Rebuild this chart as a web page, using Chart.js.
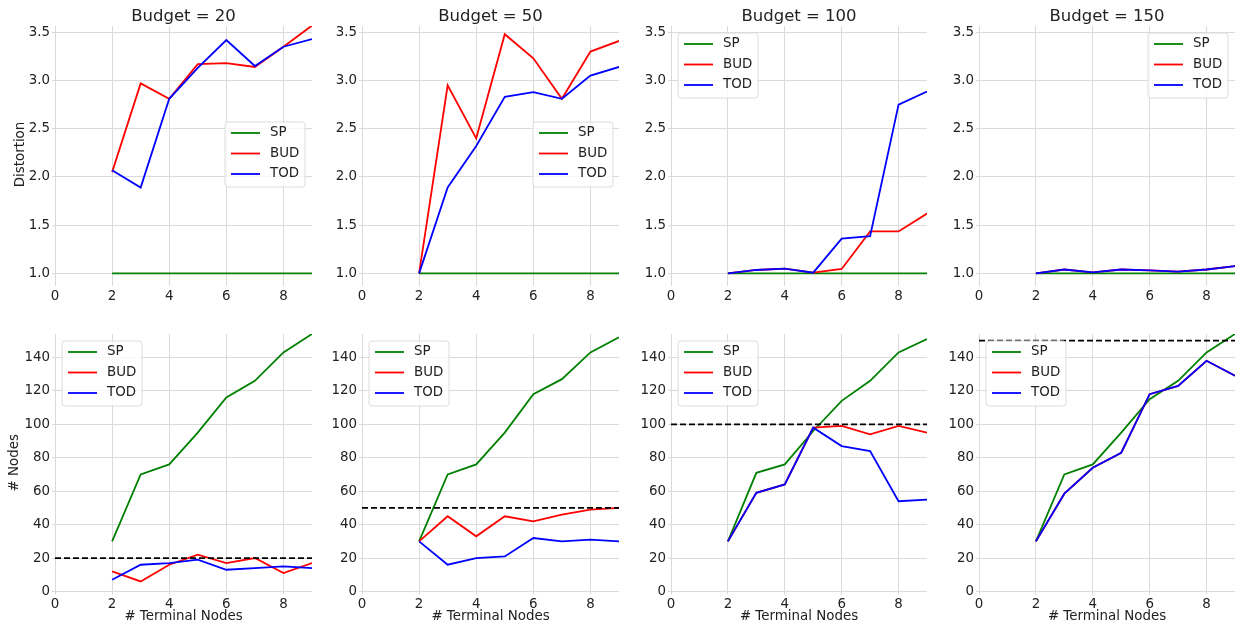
<!DOCTYPE html>
<html>
<head>
<meta charset="utf-8">
<script src="https://cdn.jsdelivr.net/npm/chart.js@4.4.1/dist/chart.umd.min.js"></script>
<style>
  html, body { margin: 0; padding: 0; background: #fff; overflow: hidden; }
  #wrap { position: relative; width: 1239px; height: 628px; }
  #wrap canvas { position: absolute; }
</style>
</head>
<body>
<div id="wrap"></div>
<script>
const terminals = [2, 3, 4, 5, 6, 7, 8, 9];
const budgets = [20, 50, 100, 150];
const seriesNames = ['SP', 'BUD', 'TOD'];
const seriesColors = ['green', 'red', 'blue'];

// distortion per budget
const distSP20  = [1, 1, 1, 1, 1, 1, 1, 1];
const distBUD20 = [2.05, 2.97, 2.81, 3.17, 3.18, 3.14, 3.35, 3.57];
const distTOD20 = [2.07, 1.89, 2.81, 3.13, 3.42, 3.15, 3.35, 3.43];
const distSP50  = [1, 1, 1, 1, 1, 1, 1, 1];
const distBUD50 = [1.0, 2.95, 2.40, 3.48, 3.23, 2.81, 3.30, 3.41];
const distTOD50 = [1.0, 1.89, 2.32, 2.83, 2.88, 2.81, 3.05, 3.14];
const distSP100  = [1, 1, 1, 1, 1, 1, 1, 1];
const distBUD100 = [1.0, 1.035, 1.05, 1.007, 1.045, 1.435, 1.435, 1.62];
const distTOD100 = [1.0, 1.035, 1.05, 1.007, 1.36, 1.385, 2.75, 2.885];
const distSP150  = [1, 1, 1, 1, 1, 1, 1, 1];
const distBUD150 = [1.0, 1.04, 1.01, 1.04, 1.03, 1.017, 1.04, 1.076];
const distTOD150 = [1.0, 1.04, 1.01, 1.04, 1.03, 1.017, 1.04, 1.076];

// number of nodes per budget
const nodesSP20  = [30, 70, 76, 95, 116, 126, 143, 154];
const nodesBUD20 = [12, 6, 16, 22, 17, 20, 11, 17];
const nodesTOD20 = [7, 16, 17, 19, 13, 14, 15, 14];
const nodesSP50  = [30, 70, 76, 95, 118, 127, 143, 152];
const nodesBUD50 = [30, 45, 33, 45, 42, 46, 49, 50];
const nodesTOD50 = [30, 16, 20, 21, 32, 30, 31, 30];
const nodesSP100  = [30, 71, 76, 96, 114, 126, 143, 151];
const nodesBUD100 = [30, 59, 64, 98, 99, 94, 99, 95];
const nodesTOD100 = [30, 59, 64, 98, 87, 84, 54, 55];
const nodesSP150  = [30, 70, 76, 95, 115, 126, 143, 154];
const nodesBUD150 = [30, 58.5, 74, 83, 118, 123, 138, 129];
const nodesTOD150 = [30, 58.5, 74, 83, 118, 123, 138, 129];

const xTicks = [0, 2, 4, 6, 8];
const distTicks = [1.0, 1.5, 2.0, 2.5, 3.0, 3.5];
const nodeTicks = [0, 20, 40, 60, 80, 100, 120, 140];

const distortion = [
  [distSP20, distBUD20, distTOD20],
  [distSP50, distBUD50, distTOD50],
  [distSP100, distBUD100, distTOD100],
  [distSP150, distBUD150, distTOD150]
];
const nodes = [
  [nodesSP20, nodesBUD20, nodesTOD20],
  [nodesSP50, nodesBUD50, nodesTOD50],
  [nodesSP100, nodesBUD100, nodesTOD100],
  [nodesSP150, nodesBUD150, nodesTOD150]
];

Chart.defaults.font.family = '"DejaVu Sans", sans-serif';
Chart.defaults.font.size = 13.4;
Chart.defaults.color = '#222';

const textColor = '#222';
const gridColor = '#dadada';

// title centred over the plot area
const panelTitle = {
  id: 'panelTitle',
  afterDraw(chart, args, opts) {
    if (!opts.text) return;
    const { ctx, chartArea } = chart;
    ctx.save();
    ctx.font = '16.5px "DejaVu Sans"';
    ctx.fillStyle = textColor;
    ctx.textAlign = 'center';
    ctx.textBaseline = 'middle';
    ctx.fillText(opts.text, (chartArea.left + chartArea.right) / 2, 16.5);
    ctx.restore();
  }
};

// matplotlib style legend box inside the axes
const boxLegend = {
  id: 'boxLegend',
  afterDraw(chart, args, opts) {
    const { ctx, chartArea } = chart;
    const w = 80, h = 65;
    const x = opts.side === 'right' ? chartArea.right - opts.dx - w : chartArea.left + opts.dx;
    const y = chartArea.top + opts.dy;
    ctx.save();
    ctx.beginPath();
    ctx.roundRect(x, y, w, h, 3);
    ctx.fillStyle = 'rgba(255,255,255,0.8)';
    ctx.fill();
    ctx.strokeStyle = '#dcdcdc';
    ctx.lineWidth = 1;
    ctx.stroke();
    ctx.font = '13.4px "DejaVu Sans"';
    ctx.textBaseline = 'middle';
    seriesNames.forEach((name, i) => {
      const ly = y + 11 + i * 20.5;
      ctx.strokeStyle = seriesColors[i];
      ctx.lineWidth = 1.8;
      ctx.beginPath();
      ctx.moveTo(x + 6, ly);
      ctx.lineTo(x + 35, ly);
      ctx.stroke();
      ctx.fillStyle = textColor;
      ctx.fillText(name, x + 45, ly);
    });
    ctx.restore();
  }
};

const plotLefts = [55, 362, 671, 979];
const plotWidths = [257, 257, 256, 256];
const legendPlaces = [
  [{ side: 'left', dx: 170, dy: 96 }, { side: 'left', dx: 171, dy: 96 }, { side: 'left', dx: 7, dy: 7 }, { side: 'right', dx: 7, dy: 7 }],
  [{ side: 'left', dx: 7, dy: 7 }, { side: 'left', dx: 7, dy: 7 }, { side: 'left', dx: 7, dy: 7 }, { side: 'left', dx: 7, dy: 7 }]
];

const wrap = document.getElementById('wrap');

function makePanel(row, col) {
  const canvas = document.createElement('canvas');
  const width = 55 + plotWidths[col] + 4;
  const height = row === 0 ? 300 : 319;
  canvas.width = width;
  canvas.height = height;
  canvas.style.width = width + 'px';
  canvas.style.height = height + 'px';
  canvas.style.left = (plotLefts[col] - 55) + 'px';
  canvas.style.top = (row === 0 ? 0 : 309) + 'px';
  wrap.appendChild(canvas);

  const values = row === 0 ? distortion[col] : nodes[col];
  const datasets = seriesNames.map((name, i) => ({
    label: name,
    data: terminals.map((t, k) => ({ x: t, y: values[i][k] })),
    borderColor: seriesColors[i],
    borderWidth: 1.8,
    pointRadius: 0,
    fill: false,
    order: 3 - i
  }));
  if (row === 1) {
    datasets.push({
      label: 'Budget',
      data: [{ x: 0, y: budgets[col] }, { x: 9, y: budgets[col] }],
      borderColor: '#000',
      borderDash: [6, 3],
      borderWidth: 1.8,
      pointRadius: 0,
      fill: false,
      order: 0
    });
  }

  const yTicks = row === 0 ? distTicks : nodeTicks;

  return new Chart(canvas, {
    type: 'line',
    data: { datasets: datasets },
    options: {
      responsive: false,
      animation: false,
      layout: { padding: { top: row === 0 ? 26 : 25, right: 4, left: 0, bottom: 0 } },
      plugins: {
        legend: { display: false },
        tooltip: { enabled: false },
        panelTitle: { text: row === 0 ? 'Budget = ' + budgets[col] : '' },
        boxLegend: legendPlaces[row][col]
      },
      scales: {
        x: {
          type: 'linear',
          min: 0,
          max: 9,
          afterBuildTicks: s => { s.ticks = xTicks.map(v => ({ value: v })); },
          afterFit: s => { s.height = row === 0 ? 17 : 36.5; },
          grid: { color: gridColor, tickColor: gridColor, tickLength: 3 },
          border: { display: false },
          ticks: { autoSkip: false, maxRotation: 0, padding: 2, color: textColor },
          title: {
            display: row === 1,
            text: '# Terminal Nodes',
            color: textColor,
            padding: { top: 0, bottom: 3 }
          }
        },
        y: {
          type: 'linear',
          min: row === 0 ? 0.9 : 0,
          max: row === 0 ? 3.565 : 154,
          afterBuildTicks: s => { s.ticks = yTicks.map(v => ({ value: v })); },
          afterFit: s => { s.width = 55; },
          grid: { color: gridColor, tickColor: gridColor, tickLength: 3 },
          border: { display: false },
          ticks: {
            autoSkip: false,
            padding: 2,
            color: textColor,
            callback: v => row === 0 ? v.toFixed(1) : String(v)
          },
          title: {
            display: col === 0,
            text: row === 0 ? 'Distortion' : '# Nodes',
            color: textColor,
            padding: { top: row === 0 ? 12 : 6.5, bottom: 0 }
          }
        }
      }
    },
    plugins: [panelTitle, boxLegend]
  });
}

for (let row = 0; row < 2; row++) {
  for (let col = 0; col < 4; col++) {
    makePanel(row, col);
  }
}
</script>
</body>
</html>
